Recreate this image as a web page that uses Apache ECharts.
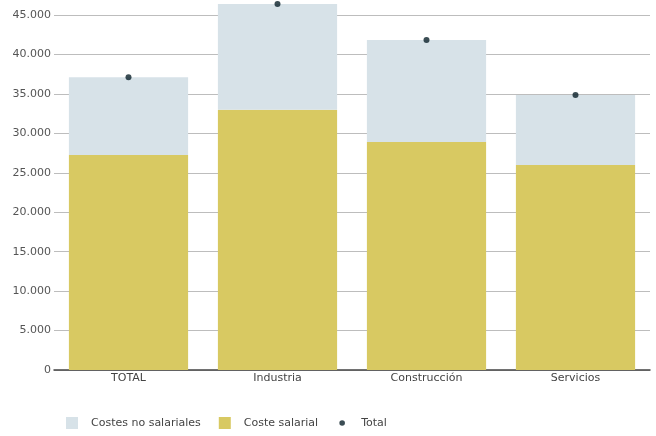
<!DOCTYPE html>
<html><head><meta charset="utf-8">
<script src="https://cdn.jsdelivr.net/npm/echarts@6/dist/echarts.min.js"></script>
<style>html,body{margin:0;padding:0;background:#fff}#c{width:656px;height:436px}</style>
</head><body><div id="c"></div>
<script>
const categories = ['TOTAL', 'Industria', 'Construcción', 'Servicios'];
const costeSalarial = [27250, 33000, 28900, 26000];
const costesNoSalariales = [9850, 13400, 12930, 8850];
const total = [37100, 46400, 41830, 34850];
const legendNames = ['Costes no salariales', 'Coste salarial', 'Total'];

const chart = echarts.init(document.getElementById('c'), null, {renderer: 'canvas'});
const font = 'DejaVu Sans';
chart.setOption({
  animation: false,
  backgroundColor: '#ffffff',
  textStyle: {fontFamily: font},
  grid: {left: 54, right: 6, top: 15, bottom: 66, containLabel: false},
  legend: {
    left: 66, top: 417, padding: 0, itemWidth: 12, itemHeight: 12, itemGap: 18,
    textStyle: {fontFamily: font, fontSize: 11, color: '#444', padding: [0, 0, 0, 8]},
    data: [
      {name: legendNames[0], icon: 'rect'},
      {name: legendNames[1], icon: 'rect'},
      {name: legendNames[2], icon: 'path://M0,0 M12,12 M8.8,6 A2.8,2.8 0 1 1 3.2,6 A2.8,2.8 0 1 1 8.8,6 Z'}
    ]
  },
  xAxis: {
    type: 'category', data: categories,
    axisLine: {show: true, lineStyle: {color: '#444', width: 1.5}},
    axisTick: {show: false},
    axisLabel: {fontFamily: font, fontSize: 11, color: '#444', margin: 3},
    splitLine: {show: false}
  },
  yAxis: {
    type: 'value', min: 0, max: 45000, interval: 5000,
    axisLine: {show: false}, axisTick: {show: false},
    axisLabel: {fontFamily: font, fontSize: 11, color: '#555', margin: 3,
      formatter: v => v === 0 ? '0' : v.toLocaleString('de-DE')},
    splitLine: {show: true, lineStyle: {color: '#bdbdbd', width: 1}}
  },
  series: [
    {name: legendNames[1], type: 'bar', stack: 's', data: costeSalarial, barCategoryGap: '20%',
     itemStyle: {color: '#d8c962'}, clip: false, z: 2},
    {name: legendNames[0], type: 'bar', stack: 's', data: costesNoSalariales,
     itemStyle: {color: '#d7e2e8'}, clip: false, z: 2},
    {name: legendNames[2], type: 'scatter', data: total, symbol: 'circle', symbolSize: 6,
     itemStyle: {color: '#0a2029'}, clip: false, z: 5}
  ]
});
</script></body></html>
